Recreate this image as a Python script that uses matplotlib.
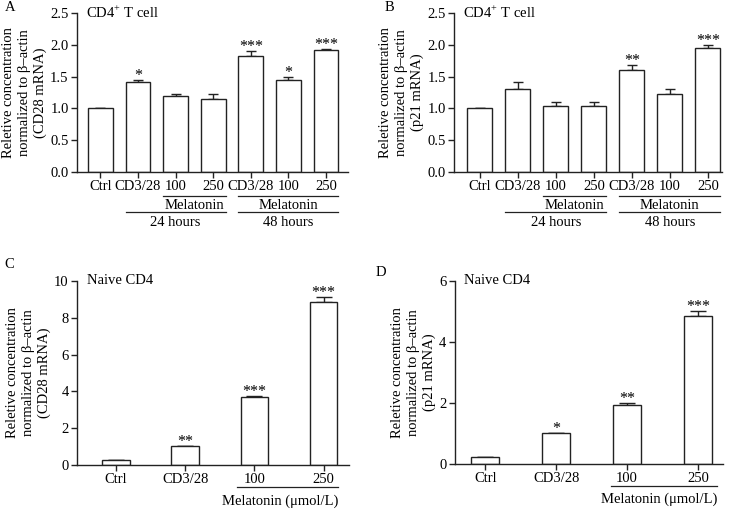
import numpy as np
import matplotlib
matplotlib.use('Agg')
import matplotlib.pyplot as plt
import matplotlib.transforms as mtransforms

plt.rcParams['font.family'] = ['Liberation Serif', 'DejaVu Serif']
plt.rcParams['mathtext.fontset'] = 'custom'
plt.rcParams['mathtext.rm'] = 'Liberation Serif'
plt.rcParams['font.size'] = 10.5

# data
cats_top = ['Ctrl', 'CD3/28', '100', '250', 'CD3/28', '100', '250']
cd28_top = [1.0, 1.41, 1.19, 1.15, 1.82, 1.44, 1.92]
cd28_top_err = [0, 0.04, 0.04, 0.08, 0.08, 0.06, 0.01]
cd28_top_sig = ['', '*', '', '', '***', '*', '***']
p21_top = [1.0, 1.30, 1.04, 1.04, 1.61, 1.23, 1.95]
p21_top_err = [0, 0.12, 0.06, 0.06, 0.08, 0.07, 0.05]
p21_top_sig = ['', '', '', '', '**', '', '***']

cats_bot = ['Ctrl', 'CD3/28', '100', '250']
cd28_bot = [0.28, 1.02, 3.68, 8.88]
cd28_bot_err = [0, 0, 0.09, 0.25]
cd28_bot_sig = ['', '**', '***', '***']
p21_bot = [0.24, 1.02, 1.92, 4.86]
p21_bot_err = [0, 0, 0.07, 0.17]
p21_bot_sig = ['', '*', '**', '***']

fig = plt.figure(figsize=(7.3, 5.09), dpi=100)
axA = fig.add_axes([0.1055, 0.662, 0.371, 0.3125])
axB = fig.add_axes([0.622, 0.662, 0.367, 0.3125])
axC = fig.add_axes([0.1055, 0.0864, 0.372, 0.3616])
axD = fig.add_axes([0.623, 0.0884, 0.367, 0.3596])


def bars(ax, cats, vals, errs, sig, width, cap, ymax, yticks, xlim, title, ylab):
    x = np.arange(len(cats))
    lower = np.zeros(len(errs))
    ax.bar(x, vals, width=width, color='white', edgecolor='#222222', linewidth=1.0, zorder=2)
    ax.errorbar(x, vals, yerr=[lower, errs], fmt='none', ecolor='#222222',
                elinewidth=1.0, capsize=cap, capthick=1.0, zorder=1)
    for xi, v, e, s in zip(x, vals, errs, sig):
        if s:
            ax.annotate(s, (xi, v + e), xytext=(0, -3), textcoords='offset points',
                        ha='center', va='bottom', fontsize=11.5)
    ax.set_xticks(x)
    ax.set_xticklabels(cats)
    ax.set_xlim(*xlim)
    ax.set_ylim(0, ymax)
    ax.set_yticks(yticks)
    for sp in ['top', 'right']:
        ax.spines[sp].set_visible(False)
    for sp in ['left', 'bottom']:
        ax.spines[sp].set_linewidth(1.0)
        ax.spines[sp].set_color('#222222')
    ax.tick_params(direction='out', length=4, width=1.0, color='#222222', pad=2, labelsize=10.5)
    ax.set_ylabel(ylab, fontsize=10.5, linespacing=1.3, labelpad=2)
    ax.text(0.035, 1.0, title, transform=ax.transAxes, ha='left', va='center', fontsize=10.5)


def underline(ax, x0, x1, y, text=None, ty=None, ha='center'):
    tr = mtransforms.blended_transform_factory(ax.transData, ax.transAxes)
    ax.plot([x0, x1], [y, y], color='#222222', lw=0.9, transform=tr, clip_on=False)
    if text:
        tx = (x0 + x1) / 2 if ha == 'center' else x1
        ax.text(tx, ty, text, transform=tr, ha=ha, va='center', fontsize=10.5)


lab28 = 'Reletive concentration\nnormalized to \u03b2\u2013actin\n(CD28 mRNA)'
lab21 = 'Reletive concentration\nnormalized to \u03b2\u2013actin\n(p21 mRNA)'
top_t = r'CD4$^{\mathrm{+}}$ T cell'

bars(axA, cats_top, cd28_top, cd28_top_err, cd28_top_sig, 0.66, 3.8, 2.5,
     [0, 0.5, 1.0, 1.5, 2.0, 2.5], (-0.62, 6.58), top_t, lab28)
bars(axB, cats_top, p21_top, p21_top_err, p21_top_sig, 0.66, 3.8, 2.5,
     [0, 0.5, 1.0, 1.5, 2.0, 2.5], (-0.68, 6.37), top_t, lab21)
for ax in (axA, axB):
    ax.set_yticklabels(['0.0', '0.5', '1.0', '1.5', '2.0', '2.5'])
    underline(ax, 1.67, 3.33, -0.15, 'Melatonin', -0.21)
    underline(ax, 0.67, 3.33, -0.25, '24 hours', -0.32)
    underline(ax, 3.67, 6.33, -0.15, 'Melatonin', -0.21)
    underline(ax, 3.67, 6.33, -0.25, '48 hours', -0.32)

bars(axC, cats_bot, cd28_bot, cd28_bot_err, cd28_bot_sig, 0.4, 5.5, 10,
     [0, 2, 4, 6, 8, 10], (-0.56, 3.36), 'Naive CD4', lab28)
bars(axD, cats_bot, p21_bot, p21_bot_err, p21_bot_sig, 0.4, 5.5, 6,
     [0, 2, 4, 6], (-0.43, 3.35), 'Naive CD4', lab21)
underline(axC, 1.75, 3.21, -0.12, 'Melatonin (\u03bcmol/L)', -0.195, ha='right')
underline(axD, 1.77, 3.27, -0.12, 'Melatonin (\u03bcmol/L)', -0.195, ha='right')

fig.text(0.006, 0.985, 'A', fontsize=10.5, va='center')
fig.text(0.527, 0.985, 'B', fontsize=10.5, va='center')
fig.text(0.006, 0.480, 'C', fontsize=10.5, va='center')
fig.text(0.514, 0.464, 'D', fontsize=10.5, va='center')

plt.savefig('out.png', dpi=100)
